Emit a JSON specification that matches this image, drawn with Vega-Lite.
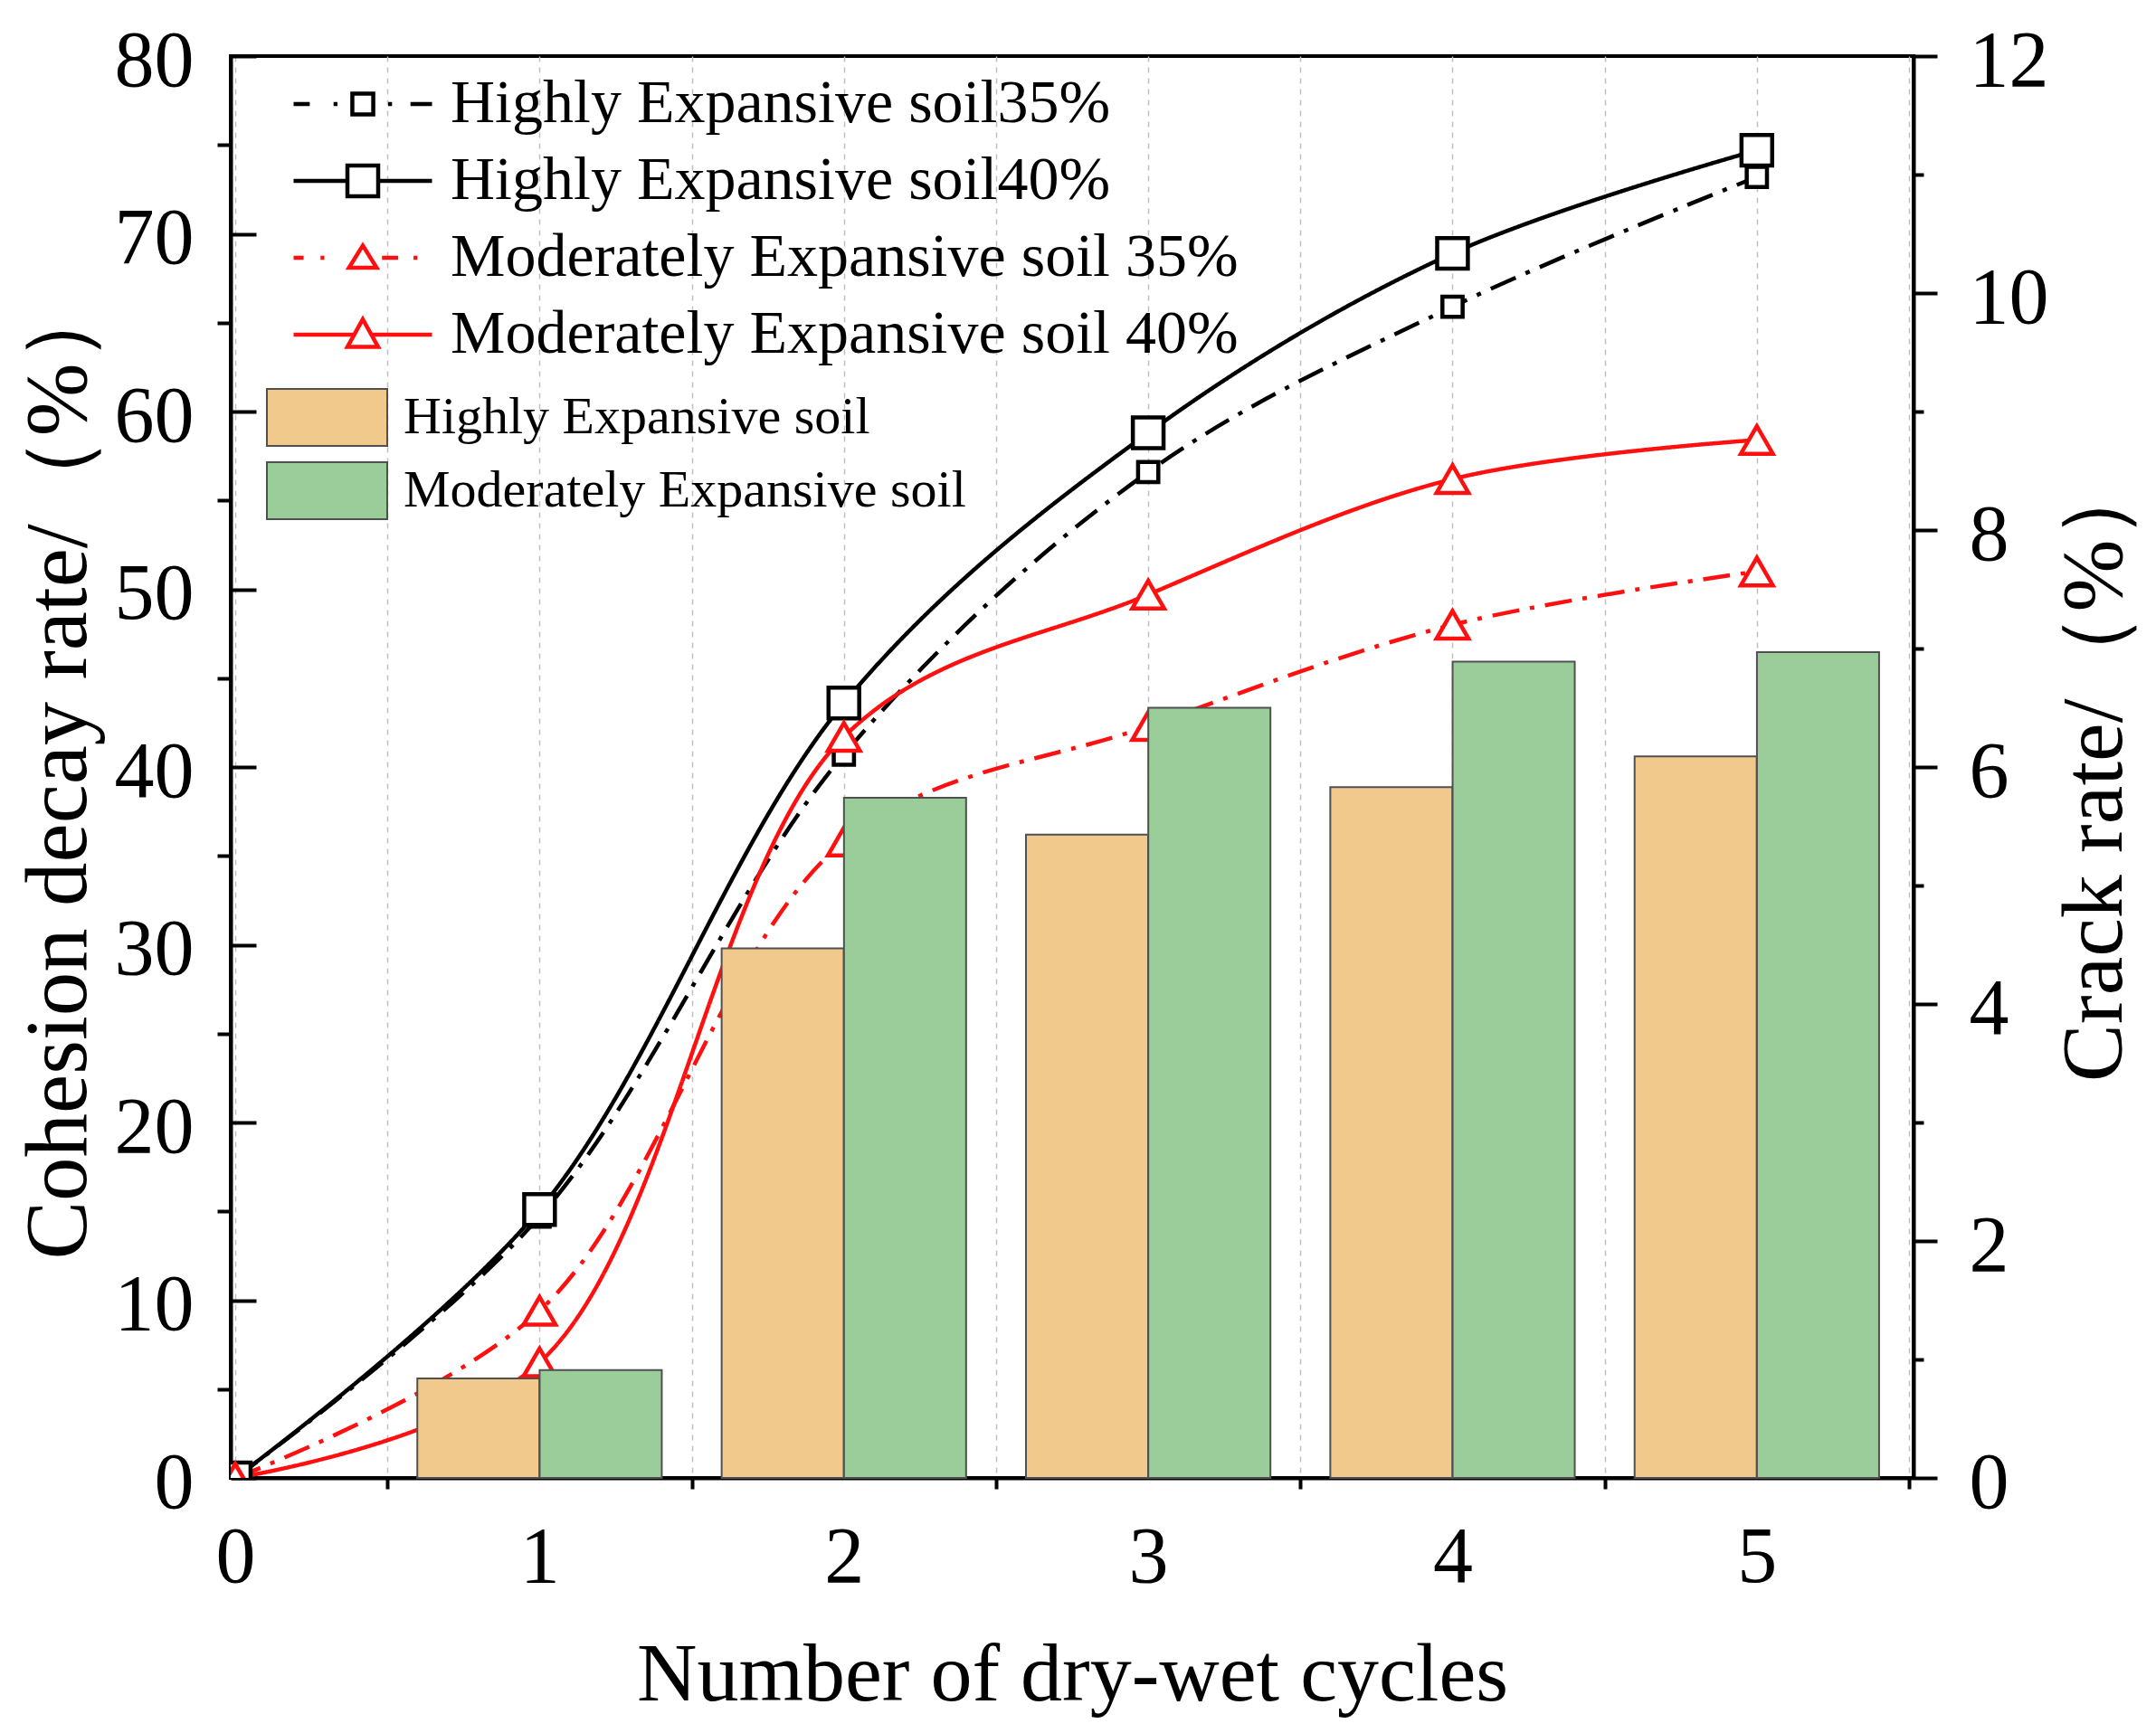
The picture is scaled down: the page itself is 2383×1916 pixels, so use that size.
{
  "$schema": "https://vega.github.io/schema/vega-lite/v6.json",
  "width": 1860,
  "height": 1572,
  "autosize": "none",
  "padding": {"left": 255, "top": 62, "right": 268, "bottom": 282},
  "background": "white",
  "config": {
    "view": {"stroke": "black", "strokeWidth": 4},
    "font": "Liberation Serif",
    "axis": {
      "labelFont": "Liberation Serif",
      "titleFont": "Liberation Serif",
      "labelColor": "black",
      "titleColor": "black",
      "titleFontWeight": "normal",
      "tickColor": "black",
      "domainColor": "black",
      "labelFlush": false,
      "labelOverlap": false
    }
  },
  "datasets": {
    "cohesion": [
      {"cycle": 0, "series": "Highly Expansive soil35%", "rate": 0},
      {"cycle": 1, "series": "Highly Expansive soil35%", "rate": 14.7},
      {"cycle": 2, "series": "Highly Expansive soil35%", "rate": 40.7},
      {"cycle": 3, "series": "Highly Expansive soil35%", "rate": 56.6},
      {"cycle": 4, "series": "Highly Expansive soil35%", "rate": 65.9},
      {"cycle": 5, "series": "Highly Expansive soil35%", "rate": 73.2},
      {"cycle": 0, "series": "Highly Expansive soil40%", "rate": 0},
      {"cycle": 1, "series": "Highly Expansive soil40%", "rate": 15.1},
      {"cycle": 2, "series": "Highly Expansive soil40%", "rate": 43.6},
      {"cycle": 3, "series": "Highly Expansive soil40%", "rate": 58.8},
      {"cycle": 4, "series": "Highly Expansive soil40%", "rate": 68.9},
      {"cycle": 5, "series": "Highly Expansive soil40%", "rate": 74.7},
      {"cycle": 0, "series": "Moderately Expansive soil 35%", "rate": 0},
      {"cycle": 1, "series": "Moderately Expansive soil 35%", "rate": 9.4},
      {"cycle": 2, "series": "Moderately Expansive soil 35%", "rate": 35.8},
      {"cycle": 3, "series": "Moderately Expansive soil 35%", "rate": 42.3},
      {"cycle": 4, "series": "Moderately Expansive soil 35%", "rate": 48.0},
      {"cycle": 5, "series": "Moderately Expansive soil 35%", "rate": 51.0},
      {"cycle": 0, "series": "Moderately Expansive soil 40%", "rate": 0},
      {"cycle": 1, "series": "Moderately Expansive soil 40%", "rate": 6.5},
      {"cycle": 2, "series": "Moderately Expansive soil 40%", "rate": 41.7},
      {"cycle": 3, "series": "Moderately Expansive soil 40%", "rate": 49.7},
      {"cycle": 4, "series": "Moderately Expansive soil 40%", "rate": 56.2},
      {"cycle": 5, "series": "Moderately Expansive soil 40%", "rate": 58.4}
    ],
    "crack": [
      {"cycle": 1, "soil": "Highly Expansive soil", "crack": 0.84},
      {"cycle": 2, "soil": "Highly Expansive soil", "crack": 4.47},
      {"cycle": 3, "soil": "Highly Expansive soil", "crack": 5.43},
      {"cycle": 4, "soil": "Highly Expansive soil", "crack": 5.83},
      {"cycle": 5, "soil": "Highly Expansive soil", "crack": 6.09},
      {"cycle": 1, "soil": "Moderately Expansive soil", "crack": 0.91},
      {"cycle": 2, "soil": "Moderately Expansive soil", "crack": 5.74},
      {"cycle": 3, "soil": "Moderately Expansive soil", "crack": 6.50},
      {"cycle": 4, "soil": "Moderately Expansive soil", "crack": 6.89},
      {"cycle": 5, "soil": "Moderately Expansive soil", "crack": 6.97}
    ]
  },
  "layer": [
    {
      "data": {"name": "cohesion"},
      "mark": {"type": "line", "interpolate": "catmull-rom", "strokeWidth": 4.5, "clip": true},
      "encoding": {
        "x": {
          "field": "cycle", "type": "quantitative",
          "scale": {"domain": [0, 5.5], "nice": false},
          "axis": {
            "orient": "bottom", "values": [0, 1, 2, 3, 4, 5],
            "title": "Number of dry-wet cycles", "titleFontSize": 92, "titlePadding": 40,
            "labelFontSize": 88, "labelPadding": 62, "labelAngle": 0,
            "tickSize": -18, "tickWidth": 4, "domainWidth": 4,
            "grid": true, "gridDash": [6, 6], "gridColor": "#c0c0c0", "gridWidth": 1.5
          }
        },
        "y": {
          "field": "rate", "type": "quantitative",
          "scale": {"domain": [0, 80], "nice": false},
          "axis": {
            "orient": "left", "values": [0, 10, 20, 30, 40, 50, 60, 70, 80],
            "title": "Cohesion decay rate/（%）", "titleFontSize": 97, "titlePadding": 12,
            "labelFontSize": 88, "labelPadding": 69, "labelOffset": 6,
            "tickSize": -28, "tickWidth": 4, "domainWidth": 4, "grid": false
          }
        },
        "color": {
          "field": "series", "type": "nominal", "legend": null,
          "scale": {
            "domain": ["Highly Expansive soil35%", "Highly Expansive soil40%", "Moderately Expansive soil 35%", "Moderately Expansive soil 40%"],
            "range": ["#000000", "#000000", "#ff1010", "#ff1010"]
          }
        },
        "strokeDash": {
          "field": "series", "type": "nominal", "legend": null,
          "scale": {
            "domain": ["Highly Expansive soil35%", "Highly Expansive soil40%", "Moderately Expansive soil 35%", "Moderately Expansive soil 40%"],
            "range": [[30, 12, 5, 12], [1, 0], [30, 12, 5, 12], [1, 0]]
          }
        }
      }
    },
    {
      "data": {"name": "cohesion"},
      "mark": {"type": "point", "fill": "white", "strokeWidth": 4.5, "opacity": 1, "clip": true},
      "encoding": {
        "x": {
          "field": "cycle", "type": "quantitative",
          "scale": {"domain": [0, 5.5], "nice": false},
          "axis": {
            "orient": "bottom", "values": [0.5, 1.5, 2.5, 3.5, 4.5, 5.5],
            "labels": false, "title": null, "domain": false,
            "tickSize": 12, "tickWidth": 4,
            "grid": true, "gridDash": [6, 6], "gridColor": "#c0c0c0", "gridWidth": 1.5
          }
        },
        "y": {
          "field": "rate", "type": "quantitative",
          "scale": {"domain": [0, 80], "nice": false},
          "axis": {
            "orient": "left", "values": [5, 15, 25, 35, 45, 55, 65, 75],
            "labels": false, "title": null, "domain": false,
            "tickSize": 15, "tickWidth": 4, "grid": false
          }
        },
        "stroke": {
          "field": "series", "type": "nominal", "legend": null,
          "scale": {
            "domain": ["Highly Expansive soil35%", "Highly Expansive soil40%", "Moderately Expansive soil 35%", "Moderately Expansive soil 40%"],
            "range": ["#000000", "#000000", "#ff1010", "#ff1010"]
          }
        },
        "shape": {
          "field": "series", "type": "nominal", "legend": null,
          "scale": {
            "domain": ["Highly Expansive soil35%", "Highly Expansive soil40%", "Moderately Expansive soil 35%", "Moderately Expansive soil 40%"],
            "range": ["square", "square", "triangle-up", "triangle-up"]
          }
        },
        "size": {
          "field": "series", "type": "nominal", "legend": null,
          "scale": {
            "type": "ordinal",
            "domain": ["Highly Expansive soil35%", "Highly Expansive soil40%", "Moderately Expansive soil 35%", "Moderately Expansive soil 40%"],
            "range": [500, 1150, 1250, 1250]
          }
        }
      }
    },
    {
      "data": {"name": "cohesion"},
      "transform": [{"filter": "false"}],
      "mark": {"type": "point", "strokeWidth": 4.5, "opacity": 1},
      "encoding": {
        "shape": {
          "field": "series", "type": "nominal",
          "scale": {
            "domain": ["Highly Expansive soil35%", "Highly Expansive soil40%", "Moderately Expansive soil 35%", "Moderately Expansive soil 40%"],
            "range": [
              "M-4.5,0H-3.45M-1.9,0H-1.65M-0.68,-0.68H0.68V0.68H-0.68ZM1.65,0H1.9M3.1,0H4.5",
              "M-4.5,0H-1M-1,-1H1V1H-1ZM1,0H4.5",
              "M-4.5,0H-3.85M-2.75,0H-2.5M0,-0.8L0.9,0.65H-0.9ZM1.25,0H2.3M3.3,0H3.55",
              "M-4.5,0H-0.55M0,-1L1,0.8H-1ZM0.55,0H4.5"
            ]
          },
          "legend": {
            "title": null, "orient": "none", "legendX": 112, "legendY": 19, "padding": 0,
            "symbolSize": 1156, "symbolStrokeWidth": 4.5, "symbolOpacity": 1,
            "labelFont": "Liberation Serif", "labelFontSize": 68, "labelColor": "black",
            "labelOffset": 63, "labelLimit": 2000, "rowPadding": 17
          }
        },
        "color": {
          "field": "series", "type": "nominal",
          "scale": {
            "domain": ["Highly Expansive soil35%", "Highly Expansive soil40%", "Moderately Expansive soil 35%", "Moderately Expansive soil 40%"],
            "range": ["#000000", "#000000", "#ff1010", "#ff1010"]
          },
          "legend": {
            "title": null, "orient": "none", "legendX": 112, "legendY": 19, "padding": 0,
            "symbolSize": 1156, "symbolStrokeWidth": 4.5, "symbolOpacity": 1,
            "labelFont": "Liberation Serif", "labelFontSize": 68, "labelColor": "black",
            "labelOffset": 63, "labelLimit": 2000, "rowPadding": 17
          }
        }
      }
    },
    {
      "data": {"name": "crack"},
      "layer": [
        {
          "transform": [{"filter": "datum.soil == 'Highly Expansive soil'"}],
          "mark": {"type": "bar", "width": 135, "xOffset": -67.6, "stroke": "#505050", "strokeWidth": 2},
          "encoding": {
            "x": {"field": "cycle", "type": "quantitative", "scale": {"domain": [0, 5.5], "nice": false}, "axis": null},
            "y": {
              "field": "crack", "type": "quantitative",
              "scale": {"domain": [0, 12], "nice": false},
              "axis": {
                "orient": "right", "values": [0, 2, 4, 6, 8, 10, 12],
                "title": "Crack rate/（%）", "titleFontSize": 96, "titlePadding": 4,
                "titleAngle": 270, "titleBaseline": "top",
                "labelFontSize": 88, "labelPadding": 35, "labelOffset": 6,
                "tickSize": 26, "tickWidth": 4, "domainWidth": 4, "grid": false
              }
            },
            "color": {
              "field": "soil", "type": "nominal",
              "scale": {"domain": ["Highly Expansive soil", "Moderately Expansive soil"], "range": ["#f1c98d", "#9acd9a"]},
              "legend": {
                "title": null, "orient": "none", "legendX": 72, "legendY": 365, "padding": 0,
                "symbolType": "M-2,-0.95H2V0.95H-2Z", "symbolSize": 4422,
                "symbolStrokeColor": "#505050", "symbolStrokeWidth": 2, "symbolOpacity": 1,
                "labelFont": "Liberation Serif", "labelFontSize": 58, "labelColor": "black",
                "labelOffset": 50, "labelLimit": 2000, "rowPadding": 8
              }
            }
          }
        },
        {
          "transform": [{"filter": "datum.soil == 'Moderately Expansive soil'"}],
          "mark": {"type": "bar", "width": 135, "xOffset": 67.6, "stroke": "#505050", "strokeWidth": 2},
          "encoding": {
            "x": {"field": "cycle", "type": "quantitative", "scale": {"domain": [0, 5.5], "nice": false}, "axis": null},
            "y": {
              "field": "crack", "type": "quantitative",
              "scale": {"domain": [0, 12], "nice": false},
              "axis": {
                "orient": "right", "values": [1, 3, 5, 7, 9, 11],
                "labels": false, "title": null, "domain": false,
                "tickSize": 11, "tickWidth": 4, "grid": false
              }
            },
            "color": {
              "field": "soil", "type": "nominal",
              "scale": {"domain": ["Highly Expansive soil", "Moderately Expansive soil"], "range": ["#f1c98d", "#9acd9a"]},
              "legend": {
                "title": null, "orient": "none", "legendX": 72, "legendY": 365, "padding": 0,
                "symbolType": "M-2,-0.95H2V0.95H-2Z", "symbolSize": 4422,
                "symbolStrokeColor": "#505050", "symbolStrokeWidth": 2, "symbolOpacity": 1,
                "labelFont": "Liberation Serif", "labelFontSize": 58, "labelColor": "black",
                "labelOffset": 50, "labelLimit": 2000, "rowPadding": 8
              }
            }
          }
        }
      ],
      "resolve": {"axis": {"y": "independent"}}
    }
  ],
  "resolve": {
    "scale": {
      "y": "independent",
      "color": "independent",
      "shape": "independent",
      "strokeDash": "independent",
      "size": "independent",
      "stroke": "independent"
    },
    "axis": {"x": "independent"}
  }
}
